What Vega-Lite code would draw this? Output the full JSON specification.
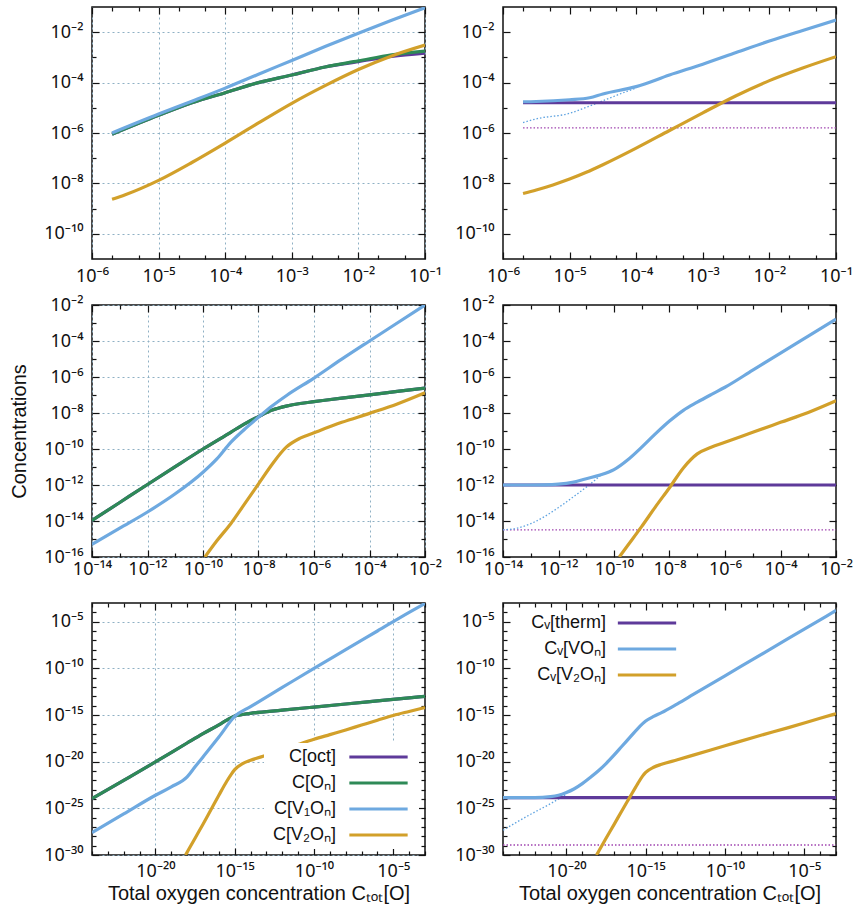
{
  "$schema": "https://vega.github.io/schema/vega-lite/v6.json",
  "background": "white",
  "padding": {"left": 8, "top": 5, "right": 0, "bottom": 0},
  "datasets": {
    "p1": [
      {"s":"C[oct]","x":2e-6,"y":8.91e-7},{"s":"C[oct]","x":1e-5,"y":5.01e-6},{"s":"C[oct]","x":3.16e-5,"y":1.585e-5},{"s":"C[oct]","x":1e-4,"y":3.98e-5},{"s":"C[oct]","x":3.16e-4,"y":1e-4},{"s":"C[oct]","x":1e-3,"y":2.0e-4},{"s":"C[oct]","x":3.16e-3,"y":4.17e-4},{"s":"C[oct]","x":1e-2,"y":6.76e-4},{"s":"C[oct]","x":3.16e-2,"y":1.10e-3},{"s":"C[oct]","x":1e-1,"y":1.48e-3},
      {"s":"C[Oₙ]","x":2e-6,"y":8.91e-7},{"s":"C[Oₙ]","x":1e-5,"y":5.01e-6},{"s":"C[Oₙ]","x":3.16e-5,"y":1.585e-5},{"s":"C[Oₙ]","x":1e-4,"y":3.98e-5},{"s":"C[Oₙ]","x":3.16e-4,"y":1e-4},{"s":"C[Oₙ]","x":1e-3,"y":2.0e-4},{"s":"C[Oₙ]","x":3.16e-3,"y":4.17e-4},{"s":"C[Oₙ]","x":1e-2,"y":7.24e-4},{"s":"C[Oₙ]","x":3.16e-2,"y":1.26e-3},{"s":"C[Oₙ]","x":1e-1,"y":1.78e-3},
      {"s":"C[V₁Oₙ]","x":2e-6,"y":1e-6},{"s":"C[V₁Oₙ]","x":1e-5,"y":5.62e-6},{"s":"C[V₁Oₙ]","x":3.16e-5,"y":1.82e-5},{"s":"C[V₁Oₙ]","x":1e-4,"y":6.03e-5},{"s":"C[V₁Oₙ]","x":3.16e-4,"y":2.14e-4},{"s":"C[V₁Oₙ]","x":1e-3,"y":7.59e-4},{"s":"C[V₁Oₙ]","x":3.16e-3,"y":2.69e-3},{"s":"C[V₁Oₙ]","x":1e-2,"y":9.12e-3},{"s":"C[V₁Oₙ]","x":3.16e-2,"y":2.95e-2},{"s":"C[V₁Oₙ]","x":1e-1,"y":9.33e-2},
      {"s":"C[V₂Oₙ]","x":2e-6,"y":2.34e-9},{"s":"C[V₂Oₙ]","x":3.16e-6,"y":3.55e-9},{"s":"C[V₂Oₙ]","x":1e-5,"y":1.32e-8},{"s":"C[V₂Oₙ]","x":3.16e-5,"y":6.76e-8},{"s":"C[V₂Oₙ]","x":1e-4,"y":3.98e-7},{"s":"C[V₂Oₙ]","x":3.16e-4,"y":2.51e-6},{"s":"C[V₂Oₙ]","x":1e-3,"y":1.51e-5},{"s":"C[V₂Oₙ]","x":3.16e-3,"y":7.59e-5},{"s":"C[V₂Oₙ]","x":1e-2,"y":3.31e-4},{"s":"C[V₂Oₙ]","x":3.16e-2,"y":1.148e-3},{"s":"C[V₂Oₙ]","x":1e-1,"y":3.09e-3}
    ],
    "p2": [
      {"s":"aux therm","x":2e-6,"y":1.585e-6},{"s":"aux therm","x":1e-1,"y":1.585e-6},
      {"s":"aux VOₙ","x":2e-6,"y":2.57e-6},{"s":"aux VOₙ","x":3.16e-6,"y":3.63e-6},{"s":"aux VOₙ","x":1e-5,"y":6.03e-6},{"s":"aux VOₙ","x":2e-5,"y":1.175e-5},{"s":"aux VOₙ","x":4.9e-5,"y":3.02e-5},{"s":"aux VOₙ","x":1e-4,"y":6.17e-5},
      {"s":"Cᵥ[therm]","x":2e-6,"y":1.585e-5},{"s":"Cᵥ[therm]","x":1e-1,"y":1.585e-5},
      {"s":"Cᵥ[VOₙ]","x":2e-6,"y":1.74e-5},{"s":"Cᵥ[VOₙ]","x":3.16e-6,"y":1.78e-5},{"s":"Cᵥ[VOₙ]","x":1e-5,"y":2.09e-5},{"s":"Cᵥ[VOₙ]","x":2e-5,"y":2.51e-5},{"s":"Cᵥ[VOₙ]","x":3.16e-5,"y":3.55e-5},{"s":"Cᵥ[VOₙ]","x":1e-4,"y":6.92e-5},{"s":"Cᵥ[VOₙ]","x":3.16e-4,"y":2.0e-4},{"s":"Cᵥ[VOₙ]","x":1e-3,"y":5.37e-4},{"s":"Cᵥ[VOₙ]","x":3.16e-3,"y":1.55e-3},{"s":"Cᵥ[VOₙ]","x":1e-2,"y":4.47e-3},{"s":"Cᵥ[VOₙ]","x":3.16e-2,"y":1.175e-2},{"s":"Cᵥ[VOₙ]","x":1e-1,"y":3.02e-2},
      {"s":"Cᵥ[V₂Oₙ]","x":2e-6,"y":3.98e-9},{"s":"Cᵥ[V₂Oₙ]","x":3.16e-6,"y":5.5e-9},{"s":"Cᵥ[V₂Oₙ]","x":5.62e-6,"y":8.71e-9},{"s":"Cᵥ[V₂Oₙ]","x":1e-5,"y":1.48e-8},{"s":"Cᵥ[V₂Oₙ]","x":1.78e-5,"y":2.75e-8},{"s":"Cᵥ[V₂Oₙ]","x":3.16e-5,"y":5.5e-8},{"s":"Cᵥ[V₂Oₙ]","x":1e-4,"y":2.51e-7},{"s":"Cᵥ[V₂Oₙ]","x":3.16e-4,"y":1.26e-6},{"s":"Cᵥ[V₂Oₙ]","x":1e-3,"y":6.31e-6},{"s":"Cᵥ[V₂Oₙ]","x":3.16e-3,"y":3.02e-5},{"s":"Cᵥ[V₂Oₙ]","x":1e-2,"y":1.20e-4},{"s":"Cᵥ[V₂Oₙ]","x":3.16e-2,"y":3.80e-4},{"s":"Cᵥ[V₂Oₙ]","x":1e-1,"y":1.07e-3}
    ],
    "p3": [
      {"s":"C[oct]","x":1e-14,"y":1.07e-14},{"s":"C[oct]","x":1e-13,"y":1.07e-13},{"s":"C[oct]","x":1e-12,"y":1.07e-12},{"s":"C[oct]","x":1e-11,"y":1.05e-11},{"s":"C[oct]","x":1e-10,"y":1e-10},{"s":"C[oct]","x":1e-9,"y":8.51e-10},{"s":"C[oct]","x":3.16e-9,"y":2.51e-9},{"s":"C[oct]","x":1e-8,"y":6.31e-9},{"s":"C[oct]","x":3.16e-8,"y":1.445e-8},{"s":"C[oct]","x":1e-7,"y":2.40e-8},{"s":"C[oct]","x":3.16e-7,"y":3.39e-8},{"s":"C[oct]","x":1e-6,"y":4.27e-8},{"s":"C[oct]","x":1e-5,"y":6.76e-8},{"s":"C[oct]","x":1e-4,"y":1.02e-7},{"s":"C[oct]","x":1e-3,"y":1.585e-7},{"s":"C[oct]","x":1e-2,"y":2.40e-7},
      {"s":"C[Oₙ]","x":1e-14,"y":1.07e-14},{"s":"C[Oₙ]","x":1e-13,"y":1.07e-13},{"s":"C[Oₙ]","x":1e-12,"y":1.07e-12},{"s":"C[Oₙ]","x":1e-11,"y":1.05e-11},{"s":"C[Oₙ]","x":1e-10,"y":1e-10},{"s":"C[Oₙ]","x":1e-9,"y":8.51e-10},{"s":"C[Oₙ]","x":3.16e-9,"y":2.51e-9},{"s":"C[Oₙ]","x":1e-8,"y":6.31e-9},{"s":"C[Oₙ]","x":3.16e-8,"y":1.445e-8},{"s":"C[Oₙ]","x":1e-7,"y":2.40e-8},{"s":"C[Oₙ]","x":3.16e-7,"y":3.39e-8},{"s":"C[Oₙ]","x":1e-6,"y":4.27e-8},{"s":"C[Oₙ]","x":1e-5,"y":6.76e-8},{"s":"C[Oₙ]","x":1e-4,"y":1.02e-7},{"s":"C[Oₙ]","x":1e-3,"y":1.585e-7},{"s":"C[Oₙ]","x":1e-2,"y":2.40e-7},
      {"s":"C[V₁Oₙ]","x":1e-14,"y":5.01e-16},{"s":"C[V₁Oₙ]","x":1e-13,"y":3.98e-15},{"s":"C[V₁Oₙ]","x":1e-12,"y":3.16e-14},{"s":"C[V₁Oₙ]","x":1e-11,"y":3.24e-13},{"s":"C[V₁Oₙ]","x":1e-10,"y":5.13e-12},{"s":"C[V₁Oₙ]","x":3.16e-10,"y":2.82e-11},{"s":"C[V₁Oₙ]","x":1e-9,"y":2.34e-10},{"s":"C[V₁Oₙ]","x":3.16e-9,"y":1.26e-9},{"s":"C[V₁Oₙ]","x":1e-8,"y":5.75e-9},{"s":"C[V₁Oₙ]","x":3.16e-8,"y":2.51e-8},{"s":"C[V₁Oₙ]","x":1e-7,"y":9.12e-8},{"s":"C[V₁Oₙ]","x":1e-6,"y":8.71e-7},{"s":"C[V₁Oₙ]","x":1e-5,"y":9.77e-6},{"s":"C[V₁Oₙ]","x":1e-4,"y":1e-4},{"s":"C[V₁Oₙ]","x":1e-3,"y":1e-3},{"s":"C[V₁Oₙ]","x":1e-2,"y":1e-2},
      {"s":"C[V₂Oₙ]","x":1.17e-10,"y":1e-16},{"s":"C[V₂Oₙ]","x":3.16e-10,"y":7.94e-16},{"s":"C[V₂Oₙ]","x":1e-9,"y":7.08e-15},{"s":"C[V₂Oₙ]","x":3.16e-9,"y":8.91e-14},{"s":"C[V₂Oₙ]","x":1e-8,"y":1.15e-12},{"s":"C[V₂Oₙ]","x":3.16e-8,"y":1.48e-11},{"s":"C[V₂Oₙ]","x":1e-7,"y":1.26e-10},{"s":"C[V₂Oₙ]","x":3.16e-7,"y":3.98e-10},{"s":"C[V₂Oₙ]","x":1e-6,"y":7.94e-10},{"s":"C[V₂Oₙ]","x":1e-5,"y":3.02e-9},{"s":"C[V₂Oₙ]","x":1e-4,"y":9.55e-9},{"s":"C[V₂Oₙ]","x":1e-3,"y":3.16e-8},{"s":"C[V₂Oₙ]","x":1e-2,"y":1.32e-7}
    ],
    "p4": [
      {"s":"aux therm","x":1e-14,"y":3.24e-15},{"s":"aux therm","x":1e-2,"y":3.24e-15},
      {"s":"aux VOₙ","x":1e-14,"y":3.24e-15},{"s":"aux VOₙ","x":3.16e-14,"y":3.98e-15},{"s":"aux VOₙ","x":1e-13,"y":7.08e-15},{"s":"aux VOₙ","x":3.16e-13,"y":1.78e-14},{"s":"aux VOₙ","x":1e-12,"y":5.62e-14},{"s":"aux VOₙ","x":3.16e-12,"y":2.0e-13},{"s":"aux VOₙ","x":1e-11,"y":7.59e-13},{"s":"aux VOₙ","x":2e-11,"y":1.78e-12},{"s":"aux VOₙ","x":3.16e-11,"y":3.16e-12},
      {"s":"Cᵥ[therm]","x":1e-14,"y":1e-12},{"s":"Cᵥ[therm]","x":1e-2,"y":1e-12},
      {"s":"Cᵥ[VOₙ]","x":1e-14,"y":1e-12},{"s":"Cᵥ[VOₙ]","x":1e-13,"y":1e-12},{"s":"Cᵥ[VOₙ]","x":3.16e-13,"y":1.02e-12},{"s":"Cᵥ[VOₙ]","x":1e-12,"y":1.12e-12},{"s":"Cᵥ[VOₙ]","x":3.16e-12,"y":1.41e-12},{"s":"Cᵥ[VOₙ]","x":1e-11,"y":2.24e-12},{"s":"Cᵥ[VOₙ]","x":3.16e-11,"y":3.55e-12},{"s":"Cᵥ[VOₙ]","x":1e-10,"y":7.08e-12},{"s":"Cᵥ[VOₙ]","x":3.16e-10,"y":2.51e-11},{"s":"Cᵥ[VOₙ]","x":1e-9,"y":1.26e-10},{"s":"Cᵥ[VOₙ]","x":3.16e-9,"y":7.08e-10},{"s":"Cᵥ[VOₙ]","x":1e-8,"y":3.55e-9},{"s":"Cᵥ[VOₙ]","x":3.16e-8,"y":1.41e-8},{"s":"Cᵥ[VOₙ]","x":1e-7,"y":3.98e-8},{"s":"Cᵥ[VOₙ]","x":3.16e-7,"y":1.05e-7},{"s":"Cᵥ[VOₙ]","x":1e-6,"y":2.69e-7},{"s":"Cᵥ[VOₙ]","x":1e-5,"y":2.40e-6},{"s":"Cᵥ[VOₙ]","x":1e-4,"y":2.14e-5},{"s":"Cᵥ[VOₙ]","x":1e-3,"y":1.86e-4},{"s":"Cᵥ[VOₙ]","x":1e-2,"y":1.62e-3},
      {"s":"Cᵥ[V₂Oₙ]","x":1.55e-10,"y":1e-16},{"s":"Cᵥ[V₂Oₙ]","x":3.16e-10,"y":4.47e-16},{"s":"Cᵥ[V₂Oₙ]","x":1e-9,"y":5.01e-15},{"s":"Cᵥ[V₂Oₙ]","x":3.16e-9,"y":6.31e-14},{"s":"Cᵥ[V₂Oₙ]","x":1e-8,"y":7.08e-13},{"s":"Cᵥ[V₂Oₙ]","x":3.16e-8,"y":8.91e-12},{"s":"Cᵥ[V₂Oₙ]","x":1e-7,"y":5.37e-11},{"s":"Cᵥ[V₂Oₙ]","x":3.16e-7,"y":1.26e-10},{"s":"Cᵥ[V₂Oₙ]","x":1e-6,"y":2.34e-10},{"s":"Cᵥ[V₂Oₙ]","x":1e-5,"y":8.51e-10},{"s":"Cᵥ[V₂Oₙ]","x":1e-4,"y":3.02e-9},{"s":"Cᵥ[V₂Oₙ]","x":1e-3,"y":1.07e-8},{"s":"Cᵥ[V₂Oₙ]","x":1e-2,"y":4.79e-8}
    ],
    "p5": [
      {"s":"C[oct]","x":1e-24,"y":1.12e-24},{"s":"C[oct]","x":1e-22,"y":1e-22},{"s":"C[oct]","x":1e-20,"y":9.33e-21},{"s":"C[oct]","x":1e-18,"y":1e-18},{"s":"C[oct]","x":1e-17,"y":1e-17},{"s":"C[oct]","x":1e-16,"y":8.91e-17},{"s":"C[oct]","x":3.16e-16,"y":2.82e-16},{"s":"C[oct]","x":1e-15,"y":7.94e-16},{"s":"C[oct]","x":3.16e-15,"y":1.12e-15},{"s":"C[oct]","x":1e-14,"y":1.51e-15},{"s":"C[oct]","x":1e-12,"y":3.31e-15},{"s":"C[oct]","x":1e-10,"y":7.08e-15},{"s":"C[oct]","x":1e-8,"y":1.51e-14},{"s":"C[oct]","x":1e-6,"y":3.24e-14},{"s":"C[oct]","x":1e-4,"y":6.92e-14},{"s":"C[oct]","x":1e-3,"y":1e-13},
      {"s":"C[Oₙ]","x":1e-24,"y":1.12e-24},{"s":"C[Oₙ]","x":1e-22,"y":1e-22},{"s":"C[Oₙ]","x":1e-20,"y":9.33e-21},{"s":"C[Oₙ]","x":1e-18,"y":1e-18},{"s":"C[Oₙ]","x":1e-17,"y":1e-17},{"s":"C[Oₙ]","x":1e-16,"y":8.91e-17},{"s":"C[Oₙ]","x":3.16e-16,"y":2.82e-16},{"s":"C[Oₙ]","x":1e-15,"y":7.94e-16},{"s":"C[Oₙ]","x":3.16e-15,"y":1.12e-15},{"s":"C[Oₙ]","x":1e-14,"y":1.51e-15},{"s":"C[Oₙ]","x":1e-12,"y":3.31e-15},{"s":"C[Oₙ]","x":1e-10,"y":7.08e-15},{"s":"C[Oₙ]","x":1e-8,"y":1.51e-14},{"s":"C[Oₙ]","x":1e-6,"y":3.24e-14},{"s":"C[Oₙ]","x":1e-4,"y":6.92e-14},{"s":"C[Oₙ]","x":1e-3,"y":1e-13},
      {"s":"C[V₁Oₙ]","x":1e-24,"y":2.51e-28},{"s":"C[V₁Oₙ]","x":1e-22,"y":2.51e-26},{"s":"C[V₁Oₙ]","x":1e-20,"y":2.51e-24},{"s":"C[V₁Oₙ]","x":1e-19,"y":2.0e-23},{"s":"C[V₁Oₙ]","x":1e-18,"y":2.34e-22},{"s":"C[V₁Oₙ]","x":3.16e-18,"y":2.82e-21},{"s":"C[V₁Oₙ]","x":1e-17,"y":3.24e-20},{"s":"C[V₁Oₙ]","x":1e-16,"y":4.37e-18},{"s":"C[V₁Oₙ]","x":1e-15,"y":7.08e-16},{"s":"C[V₁Oₙ]","x":1e-14,"y":7.94e-15},{"s":"C[V₁Oₙ]","x":1e-12,"y":8.91e-13},{"s":"C[V₁Oₙ]","x":1e-10,"y":1e-10},{"s":"C[V₁Oₙ]","x":1e-8,"y":1e-8},{"s":"C[V₁Oₙ]","x":1e-6,"y":1e-6},{"s":"C[V₁Oₙ]","x":1e-4,"y":1e-4},{"s":"C[V₁Oₙ]","x":1e-3,"y":8.91e-4},
      {"s":"C[V₂Oₙ]","x":7.94e-19,"y":1e-30},{"s":"C[V₂Oₙ]","x":3.16e-18,"y":6.31e-29},{"s":"C[V₂Oₙ]","x":1e-17,"y":2.0e-27},{"s":"C[V₂Oₙ]","x":3.16e-17,"y":7.08e-26},{"s":"C[V₂Oₙ]","x":1e-16,"y":2.51e-24},{"s":"C[V₂Oₙ]","x":3.16e-16,"y":7.94e-23},{"s":"C[V₂Oₙ]","x":6.31e-16,"y":5.01e-22},{"s":"C[V₂Oₙ]","x":1e-15,"y":1.41e-21},{"s":"C[V₂Oₙ]","x":3.16e-15,"y":6.31e-21},{"s":"C[V₂Oₙ]","x":1e-14,"y":1.41e-20},{"s":"C[V₂Oₙ]","x":1e-13,"y":4.79e-20},{"s":"C[V₂Oₙ]","x":1e-12,"y":1.78e-19},{"s":"C[V₂Oₙ]","x":1e-11,"y":6.76e-19},{"s":"C[V₂Oₙ]","x":1e-10,"y":2.51e-18},{"s":"C[V₂Oₙ]","x":1e-9,"y":7.94e-18},{"s":"C[V₂Oₙ]","x":1e-8,"y":2.51e-17},{"s":"C[V₂Oₙ]","x":1e-7,"y":8.32e-17},{"s":"C[V₂Oₙ]","x":1e-6,"y":2.75e-16},{"s":"C[V₂Oₙ]","x":1e-5,"y":8.91e-16},{"s":"C[V₂Oₙ]","x":1e-4,"y":2.40e-15},{"s":"C[V₂Oₙ]","x":1e-3,"y":6.31e-15}
    ],
    "p6": [
      {"s":"aux therm","x":1e-24,"y":1.175e-29},{"s":"aux therm","x":1e-3,"y":1.175e-29},
      {"s":"aux VOₙ","x":1e-24,"y":4.47e-28},{"s":"aux VOₙ","x":1e-23,"y":4.47e-27},{"s":"aux VOₙ","x":1e-22,"y":3.98e-26},{"s":"aux VOₙ","x":1e-21,"y":3.16e-25},{"s":"aux VOₙ","x":3.16e-21,"y":1e-24},{"s":"aux VOₙ","x":1e-20,"y":3.16e-24},
      {"s":"Cᵥ[therm]","x":1e-24,"y":1.41e-24},{"s":"Cᵥ[therm]","x":1e-3,"y":1.41e-24},
      {"s":"Cᵥ[VOₙ]","x":1e-24,"y":1.41e-24},{"s":"Cᵥ[VOₙ]","x":1e-22,"y":1.41e-24},{"s":"Cᵥ[VOₙ]","x":1e-21,"y":1.78e-24},{"s":"Cᵥ[VOₙ]","x":3.16e-21,"y":2.51e-24},{"s":"Cᵥ[VOₙ]","x":1e-20,"y":5.01e-24},{"s":"Cᵥ[VOₙ]","x":3.16e-20,"y":1.26e-23},{"s":"Cᵥ[VOₙ]","x":1e-19,"y":4.47e-23},{"s":"Cᵥ[VOₙ]","x":3.16e-19,"y":2.0e-22},{"s":"Cᵥ[VOₙ]","x":1e-18,"y":1e-21},{"s":"Cᵥ[VOₙ]","x":3.16e-18,"y":6.31e-21},{"s":"Cᵥ[VOₙ]","x":1e-17,"y":5.01e-20},{"s":"Cᵥ[VOₙ]","x":3.16e-17,"y":4.47e-19},{"s":"Cᵥ[VOₙ]","x":1e-16,"y":3.98e-18},{"s":"Cᵥ[VOₙ]","x":3.16e-16,"y":3.55e-17},{"s":"Cᵥ[VOₙ]","x":1e-15,"y":2.24e-16},{"s":"Cᵥ[VOₙ]","x":3.16e-15,"y":7.08e-16},{"s":"Cᵥ[VOₙ]","x":1e-14,"y":1.78e-15},{"s":"Cᵥ[VOₙ]","x":1e-13,"y":1.585e-14},{"s":"Cᵥ[VOₙ]","x":1e-12,"y":1.585e-13},{"s":"Cᵥ[VOₙ]","x":1e-10,"y":1.585e-11},{"s":"Cᵥ[VOₙ]","x":1e-8,"y":1.585e-9},{"s":"Cᵥ[VOₙ]","x":1e-6,"y":1.585e-7},{"s":"Cᵥ[VOₙ]","x":1e-4,"y":1.585e-5},{"s":"Cᵥ[VOₙ]","x":1e-3,"y":1.585e-4},
      {"s":"Cᵥ[V₂Oₙ]","x":7.94e-19,"y":1e-30},{"s":"Cᵥ[V₂Oₙ]","x":3.16e-18,"y":6.31e-29},{"s":"Cᵥ[V₂Oₙ]","x":1e-17,"y":1.78e-27},{"s":"Cᵥ[V₂Oₙ]","x":3.16e-17,"y":5.62e-26},{"s":"Cᵥ[V₂Oₙ]","x":1e-16,"y":1.585e-24},{"s":"Cᵥ[V₂Oₙ]","x":3.16e-16,"y":4.47e-23},{"s":"Cᵥ[V₂Oₙ]","x":6.31e-16,"y":2.82e-22},{"s":"Cᵥ[V₂Oₙ]","x":1e-15,"y":7.08e-22},{"s":"Cᵥ[V₂Oₙ]","x":3.16e-15,"y":2.51e-21},{"s":"Cᵥ[V₂Oₙ]","x":1e-14,"y":5.25e-21},{"s":"Cᵥ[V₂Oₙ]","x":1e-13,"y":1.585e-20},{"s":"Cᵥ[V₂Oₙ]","x":1e-12,"y":5.01e-20},{"s":"Cᵥ[V₂Oₙ]","x":1e-10,"y":5.01e-19},{"s":"Cᵥ[V₂Oₙ]","x":1e-8,"y":5.01e-18},{"s":"Cᵥ[V₂Oₙ]","x":1e-6,"y":4.47e-17},{"s":"Cᵥ[V₂Oₙ]","x":1e-4,"y":4.47e-16},{"s":"Cᵥ[V₂Oₙ]","x":1e-3,"y":1.38e-15}
    ]
  },
  "columns": 2,
  "spacing": {"row": 46, "column": 78},
  "bounds": "flush",
  "resolve": {"scale": {"color": "independent"}, "legend": {"color": "independent"}},
  "concat": [
    {
      "width": 333, "height": 252,
      "data": {"name": "p1"},
      "layer": [
        {
          "mark": {"type": "line", "strokeWidth": 3.2, "clip": true, "interpolate": "monotone"},
          "encoding": {
            "x": {"field": "x", "type": "quantitative", "scale": {"type": "log", "domain": [1e-6, 0.1], "nice": false},
              "axis": {"orient": "bottom", "title": null, "values": [1e-6,2e-6,5e-6,1e-5,2e-5,5e-5,1e-4,2e-4,5e-4,1e-3,2e-3,5e-3,1e-2,2e-2,5e-2,1e-1],
                "labelExpr": "abs(log(datum.value)/LN10 - round(log(datum.value)/LN10)) < 0.01 ? '10⁻' + (round(-log(datum.value)/LN10) >= 10 ? ['⁰','¹','²','³','⁴','⁵','⁶','⁷','⁸','⁹'][floor(round(-log(datum.value)/LN10)/10)] : '') + ['⁰','¹','²','³','⁴','⁵','⁶','⁷','⁸','⁹'][round(-log(datum.value)/LN10) % 10] : ''",
                "tickSize": {"condition": {"test": "abs(log(datum.value)/LN10 - round(log(datum.value)/LN10)) < 0.01", "value": -7}, "value": -4},
                "gridOpacity": {"condition": {"test": "abs(log(datum.value)/LN10 - round(log(datum.value)/LN10)) < 0.01", "value": 1}, "value": 0},
                "labelPadding": 15}},
            "y": {"field": "y", "type": "quantitative", "scale": {"type": "log", "domain": [1e-11, 0.1], "nice": false},
              "axis": {"orient": "left", "title": null, "values": [1e-10,1e-9,1e-8,1e-7,1e-6,1e-5,1e-4,1e-3,1e-2],
                "labelExpr": "round(log(datum.value)/LN10) % 2 == 0 ? '10⁻' + (round(-log(datum.value)/LN10) >= 10 ? ['⁰','¹','²','³','⁴','⁵','⁶','⁷','⁸','⁹'][floor(round(-log(datum.value)/LN10)/10)] : '') + ['⁰','¹','²','³','⁴','⁵','⁶','⁷','⁸','⁹'][round(-log(datum.value)/LN10) % 10] : ''",
                "tickSize": {"condition": {"test": "round(log(datum.value)/LN10) % 2 == 0", "value": -7}, "value": -4},
                "gridOpacity": {"condition": {"test": "round(log(datum.value)/LN10) % 2 == 0", "value": 1}, "value": 0},
                "labelPadding": 16}},
            "color": {"field": "s", "type": "nominal", "legend": null,
              "scale": {"domain": ["C[oct]","C[Oₙ]","C[V₁Oₙ]","C[V₂Oₙ]"], "range": ["#5e3a9a","#2e8a57","#6ea9e0","#d2a02a"]}}
          }
        },
        {
          "mark": {"type": "line", "opacity": 0},
          "encoding": {
            "x": {"field": "x", "type": "quantitative", "scale": {"type": "log", "domain": [1e-6, 0.1], "nice": false},
              "axis": {"orient": "top", "title": null, "labels": false, "grid": false, "values": [1e-6,2e-6,5e-6,1e-5,2e-5,5e-5,1e-4,2e-4,5e-4,1e-3,2e-3,5e-3,1e-2,2e-2,5e-2,1e-1],
                "tickSize": {"condition": {"test": "abs(log(datum.value)/LN10 - round(log(datum.value)/LN10)) < 0.01", "value": -7}, "value": -4}}},
            "y": {"field": "y", "type": "quantitative", "scale": {"type": "log", "domain": [1e-11, 0.1], "nice": false},
              "axis": {"orient": "right", "title": null, "labels": false, "grid": false, "values": [1e-10,1e-9,1e-8,1e-7,1e-6,1e-5,1e-4,1e-3,1e-2],
                "tickSize": {"condition": {"test": "round(log(datum.value)/LN10) % 2 == 0", "value": -7}, "value": -4}}}
          }
        }
      ],
      "resolve": {"axis": {"x": "independent", "y": "independent"}}
    },
    {
      "width": 333, "height": 252,
      "data": {"name": "p2"},
      "layer": [
        {
          "transform": [{"filter": {"field": "s", "equal": "aux therm"}}],
          "mark": {"type": "line", "strokeWidth": 1.3, "strokeDash": [1.5, 2], "color": "#a044b0", "clip": true},
          "encoding": {
            "x": {"field": "x", "type": "quantitative", "scale": {"type": "log", "domain": [1e-6, 0.1], "nice": false}, "axis": null},
            "y": {"field": "y", "type": "quantitative", "scale": {"type": "log", "domain": [1e-11, 0.1], "nice": false}, "axis": null}
          }
        },
        {
          "transform": [{"filter": {"field": "s", "equal": "aux VOₙ"}}],
          "mark": {"type": "line", "strokeWidth": 1.3, "strokeDash": [1.5, 2], "color": "#5fa3e0", "clip": true, "interpolate": "monotone"},
          "encoding": {
            "x": {"field": "x", "type": "quantitative", "scale": {"type": "log", "domain": [1e-6, 0.1], "nice": false}, "axis": null},
            "y": {"field": "y", "type": "quantitative", "scale": {"type": "log", "domain": [1e-11, 0.1], "nice": false}, "axis": null}
          }
        },
        {
          "transform": [{"filter": {"field": "s", "oneOf": ["Cᵥ[therm]","Cᵥ[VOₙ]","Cᵥ[V₂Oₙ]"]}}],
          "mark": {"type": "line", "strokeWidth": 3.2, "clip": true, "interpolate": "monotone"},
          "encoding": {
            "x": {"field": "x", "type": "quantitative", "scale": {"type": "log", "domain": [1e-6, 0.1], "nice": false},
              "axis": {"orient": "bottom", "title": null, "values": [1e-6,2e-6,5e-6,1e-5,2e-5,5e-5,1e-4,2e-4,5e-4,1e-3,2e-3,5e-3,1e-2,2e-2,5e-2,1e-1],
                "labelExpr": "abs(log(datum.value)/LN10 - round(log(datum.value)/LN10)) < 0.01 ? '10⁻' + (round(-log(datum.value)/LN10) >= 10 ? ['⁰','¹','²','³','⁴','⁵','⁶','⁷','⁸','⁹'][floor(round(-log(datum.value)/LN10)/10)] : '') + ['⁰','¹','²','³','⁴','⁵','⁶','⁷','⁸','⁹'][round(-log(datum.value)/LN10) % 10] : ''",
                "tickSize": {"condition": {"test": "abs(log(datum.value)/LN10 - round(log(datum.value)/LN10)) < 0.01", "value": -7}, "value": -4},
                "gridOpacity": {"condition": {"test": "abs(log(datum.value)/LN10 - round(log(datum.value)/LN10)) < 0.01", "value": 1}, "value": 0},
                "labelPadding": 15}},
            "y": {"field": "y", "type": "quantitative", "scale": {"type": "log", "domain": [1e-11, 0.1], "nice": false},
              "axis": {"orient": "left", "title": null, "values": [1e-10,1e-9,1e-8,1e-7,1e-6,1e-5,1e-4,1e-3,1e-2],
                "labelExpr": "round(log(datum.value)/LN10) % 2 == 0 ? '10⁻' + (round(-log(datum.value)/LN10) >= 10 ? ['⁰','¹','²','³','⁴','⁵','⁶','⁷','⁸','⁹'][floor(round(-log(datum.value)/LN10)/10)] : '') + ['⁰','¹','²','³','⁴','⁵','⁶','⁷','⁸','⁹'][round(-log(datum.value)/LN10) % 10] : ''",
                "tickSize": {"condition": {"test": "round(log(datum.value)/LN10) % 2 == 0", "value": -7}, "value": -4},
                "gridOpacity": {"condition": {"test": "round(log(datum.value)/LN10) % 2 == 0", "value": 1}, "value": 0},
                "labelPadding": 16}},
            "color": {"field": "s", "type": "nominal", "legend": null,
              "scale": {"domain": ["Cᵥ[therm]","Cᵥ[VOₙ]","Cᵥ[V₂Oₙ]"], "range": ["#5e3a9a","#6ea9e0","#d2a02a"]}}
          }
        },
        {
          "mark": {"type": "line", "opacity": 0},
          "encoding": {
            "x": {"field": "x", "type": "quantitative", "scale": {"type": "log", "domain": [1e-6, 0.1], "nice": false},
              "axis": {"orient": "top", "title": null, "labels": false, "grid": false, "values": [1e-6,2e-6,5e-6,1e-5,2e-5,5e-5,1e-4,2e-4,5e-4,1e-3,2e-3,5e-3,1e-2,2e-2,5e-2,1e-1],
                "tickSize": {"condition": {"test": "abs(log(datum.value)/LN10 - round(log(datum.value)/LN10)) < 0.01", "value": -7}, "value": -4}}},
            "y": {"field": "y", "type": "quantitative", "scale": {"type": "log", "domain": [1e-11, 0.1], "nice": false},
              "axis": {"orient": "right", "title": null, "labels": false, "grid": false, "values": [1e-10,1e-9,1e-8,1e-7,1e-6,1e-5,1e-4,1e-3,1e-2],
                "tickSize": {"condition": {"test": "round(log(datum.value)/LN10) % 2 == 0", "value": -7}, "value": -4}}}
          }
        }
      ],
      "resolve": {"axis": {"x": "independent", "y": "independent"}}
    },
    {
      "width": 333, "height": 252,
      "data": {"name": "p3"},
      "layer": [
        {
          "mark": {"type": "line", "strokeWidth": 3.2, "clip": true, "interpolate": "monotone"},
          "encoding": {
            "x": {"field": "x", "type": "quantitative", "scale": {"type": "log", "domain": [1e-14, 1e-2], "nice": false},
              "axis": {"orient": "bottom", "title": null, "values": [1e-14,1e-13,1e-12,1e-11,1e-10,1e-9,1e-8,1e-7,1e-6,1e-5,1e-4,1e-3,1e-2],
                "labelExpr": "round(log(datum.value)/LN10) % 2 == 0 ? '10⁻' + (round(-log(datum.value)/LN10) >= 10 ? ['⁰','¹','²','³','⁴','⁵','⁶','⁷','⁸','⁹'][floor(round(-log(datum.value)/LN10)/10)] : '') + ['⁰','¹','²','³','⁴','⁵','⁶','⁷','⁸','⁹'][round(-log(datum.value)/LN10) % 10] : ''",
                "tickSize": {"condition": {"test": "round(log(datum.value)/LN10) % 2 == 0", "value": -7}, "value": -4},
                "gridOpacity": {"condition": {"test": "round(log(datum.value)/LN10) % 2 == 0", "value": 1}, "value": 0},
                "labelPadding": 10}},
            "y": {"field": "y", "type": "quantitative", "scale": {"type": "log", "domain": [1e-16, 1e-2], "nice": false},
              "axis": {"orient": "left", "title": "Concentrations", "titleX": -73, "titleY": 126, "titleAngle": 270, "titleAlign": "center", "titleBaseline": "middle",
                "values": [1e-16,1e-15,1e-14,1e-13,1e-12,1e-11,1e-10,1e-9,1e-8,1e-7,1e-6,1e-5,1e-4,1e-3,1e-2],
                "labelExpr": "round(log(datum.value)/LN10) % 2 == 0 ? '10⁻' + (round(-log(datum.value)/LN10) >= 10 ? ['⁰','¹','²','³','⁴','⁵','⁶','⁷','⁸','⁹'][floor(round(-log(datum.value)/LN10)/10)] : '') + ['⁰','¹','²','³','⁴','⁵','⁶','⁷','⁸','⁹'][round(-log(datum.value)/LN10) % 10] : ''",
                "tickSize": {"condition": {"test": "round(log(datum.value)/LN10) % 2 == 0", "value": -7}, "value": -4},
                "gridOpacity": {"condition": {"test": "round(log(datum.value)/LN10) % 2 == 0", "value": 1}, "value": 0},
                "labelPadding": 16}},
            "color": {"field": "s", "type": "nominal", "legend": null,
              "scale": {"domain": ["C[oct]","C[Oₙ]","C[V₁Oₙ]","C[V₂Oₙ]"], "range": ["#5e3a9a","#2e8a57","#6ea9e0","#d2a02a"]}}
          }
        },
        {
          "mark": {"type": "line", "opacity": 0},
          "encoding": {
            "x": {"field": "x", "type": "quantitative", "scale": {"type": "log", "domain": [1e-14, 1e-2], "nice": false},
              "axis": {"orient": "top", "title": null, "labels": false, "grid": false, "values": [1e-14,1e-13,1e-12,1e-11,1e-10,1e-9,1e-8,1e-7,1e-6,1e-5,1e-4,1e-3,1e-2],
                "tickSize": {"condition": {"test": "round(log(datum.value)/LN10) % 2 == 0", "value": -7}, "value": -4}}},
            "y": {"field": "y", "type": "quantitative", "scale": {"type": "log", "domain": [1e-16, 1e-2], "nice": false},
              "axis": {"orient": "right", "title": null, "labels": false, "grid": false, "values": [1e-16,1e-15,1e-14,1e-13,1e-12,1e-11,1e-10,1e-9,1e-8,1e-7,1e-6,1e-5,1e-4,1e-3,1e-2],
                "tickSize": {"condition": {"test": "round(log(datum.value)/LN10) % 2 == 0", "value": -7}, "value": -4}}}
          }
        }
      ],
      "resolve": {"axis": {"x": "independent", "y": "independent"}}
    },
    {
      "width": 333, "height": 252,
      "data": {"name": "p4"},
      "layer": [
        {
          "transform": [{"filter": {"field": "s", "equal": "aux therm"}}],
          "mark": {"type": "line", "strokeWidth": 1.3, "strokeDash": [1.5, 2], "color": "#a044b0", "clip": true},
          "encoding": {
            "x": {"field": "x", "type": "quantitative", "scale": {"type": "log", "domain": [1e-14, 1e-2], "nice": false}, "axis": null},
            "y": {"field": "y", "type": "quantitative", "scale": {"type": "log", "domain": [1e-16, 1e-2], "nice": false}, "axis": null}
          }
        },
        {
          "transform": [{"filter": {"field": "s", "equal": "aux VOₙ"}}],
          "mark": {"type": "line", "strokeWidth": 1.3, "strokeDash": [1.5, 2], "color": "#5fa3e0", "clip": true, "interpolate": "monotone"},
          "encoding": {
            "x": {"field": "x", "type": "quantitative", "scale": {"type": "log", "domain": [1e-14, 1e-2], "nice": false}, "axis": null},
            "y": {"field": "y", "type": "quantitative", "scale": {"type": "log", "domain": [1e-16, 1e-2], "nice": false}, "axis": null}
          }
        },
        {
          "transform": [{"filter": {"field": "s", "oneOf": ["Cᵥ[therm]","Cᵥ[VOₙ]","Cᵥ[V₂Oₙ]"]}}],
          "mark": {"type": "line", "strokeWidth": 3.2, "clip": true, "interpolate": "monotone"},
          "encoding": {
            "x": {"field": "x", "type": "quantitative", "scale": {"type": "log", "domain": [1e-14, 1e-2], "nice": false},
              "axis": {"orient": "bottom", "title": null, "values": [1e-14,1e-13,1e-12,1e-11,1e-10,1e-9,1e-8,1e-7,1e-6,1e-5,1e-4,1e-3,1e-2],
                "labelExpr": "round(log(datum.value)/LN10) % 2 == 0 ? '10⁻' + (round(-log(datum.value)/LN10) >= 10 ? ['⁰','¹','²','³','⁴','⁵','⁶','⁷','⁸','⁹'][floor(round(-log(datum.value)/LN10)/10)] : '') + ['⁰','¹','²','³','⁴','⁵','⁶','⁷','⁸','⁹'][round(-log(datum.value)/LN10) % 10] : ''",
                "tickSize": {"condition": {"test": "round(log(datum.value)/LN10) % 2 == 0", "value": -7}, "value": -4},
                "gridOpacity": {"condition": {"test": "round(log(datum.value)/LN10) % 2 == 0", "value": 1}, "value": 0},
                "labelPadding": 10}},
            "y": {"field": "y", "type": "quantitative", "scale": {"type": "log", "domain": [1e-16, 1e-2], "nice": false},
              "axis": {"orient": "left", "title": null, "values": [1e-16,1e-15,1e-14,1e-13,1e-12,1e-11,1e-10,1e-9,1e-8,1e-7,1e-6,1e-5,1e-4,1e-3,1e-2],
                "labelExpr": "round(log(datum.value)/LN10) % 2 == 0 ? '10⁻' + (round(-log(datum.value)/LN10) >= 10 ? ['⁰','¹','²','³','⁴','⁵','⁶','⁷','⁸','⁹'][floor(round(-log(datum.value)/LN10)/10)] : '') + ['⁰','¹','²','³','⁴','⁵','⁶','⁷','⁸','⁹'][round(-log(datum.value)/LN10) % 10] : ''",
                "tickSize": {"condition": {"test": "round(log(datum.value)/LN10) % 2 == 0", "value": -7}, "value": -4},
                "gridOpacity": {"condition": {"test": "round(log(datum.value)/LN10) % 2 == 0", "value": 1}, "value": 0},
                "labelPadding": 16}},
            "color": {"field": "s", "type": "nominal", "legend": null,
              "scale": {"domain": ["Cᵥ[therm]","Cᵥ[VOₙ]","Cᵥ[V₂Oₙ]"], "range": ["#5e3a9a","#6ea9e0","#d2a02a"]}}
          }
        },
        {
          "mark": {"type": "line", "opacity": 0},
          "encoding": {
            "x": {"field": "x", "type": "quantitative", "scale": {"type": "log", "domain": [1e-14, 1e-2], "nice": false},
              "axis": {"orient": "top", "title": null, "labels": false, "grid": false, "values": [1e-14,1e-13,1e-12,1e-11,1e-10,1e-9,1e-8,1e-7,1e-6,1e-5,1e-4,1e-3,1e-2],
                "tickSize": {"condition": {"test": "round(log(datum.value)/LN10) % 2 == 0", "value": -7}, "value": -4}}},
            "y": {"field": "y", "type": "quantitative", "scale": {"type": "log", "domain": [1e-16, 1e-2], "nice": false},
              "axis": {"orient": "right", "title": null, "labels": false, "grid": false, "values": [1e-16,1e-15,1e-14,1e-13,1e-12,1e-11,1e-10,1e-9,1e-8,1e-7,1e-6,1e-5,1e-4,1e-3,1e-2],
                "tickSize": {"condition": {"test": "round(log(datum.value)/LN10) % 2 == 0", "value": -7}, "value": -4}}}
          }
        }
      ],
      "resolve": {"axis": {"x": "independent", "y": "independent"}}
    },
    {
      "width": 333, "height": 252,
      "data": {"name": "p5"},
      "layer": [
        {
          "mark": {"type": "line", "strokeWidth": 3.2, "clip": true, "interpolate": "monotone"},
          "encoding": {
            "x": {"field": "x", "type": "quantitative", "scale": {"type": "log", "domain": [1e-24, 1e-3], "nice": false},
              "axis": {"orient": "bottom", "title": "Total oxygen concentration Cₜₒₜ[O]", "titleY": 38, "titleBaseline": "middle",
                "values": [1e-24,1e-23,1e-22,1e-21,1e-20,1e-19,1e-18,1e-17,1e-16,1e-15,1e-14,1e-13,1e-12,1e-11,1e-10,1e-9,1e-8,1e-7,1e-6,1e-5,1e-4,1e-3],
                "labelExpr": "round(log(datum.value)/LN10) % 5 == 0 ? '10⁻' + (round(-log(datum.value)/LN10) >= 10 ? ['⁰','¹','²','³','⁴','⁵','⁶','⁷','⁸','⁹'][floor(round(-log(datum.value)/LN10)/10)] : '') + ['⁰','¹','²','³','⁴','⁵','⁶','⁷','⁸','⁹'][round(-log(datum.value)/LN10) % 10] : ''",
                "tickSize": {"condition": {"test": "round(log(datum.value)/LN10) % 5 == 0", "value": -7}, "value": -4},
                "gridOpacity": {"condition": {"test": "round(log(datum.value)/LN10) % 5 == 0", "value": 1}, "value": 0},
                "labelPadding": 14}},
            "y": {"field": "y", "type": "quantitative", "scale": {"type": "log", "domain": [1e-30, 1e-3], "nice": false},
              "axis": {"orient": "left", "title": null,
                "values": [1e-30,1e-29,1e-28,1e-27,1e-26,1e-25,1e-24,1e-23,1e-22,1e-21,1e-20,1e-19,1e-18,1e-17,1e-16,1e-15,1e-14,1e-13,1e-12,1e-11,1e-10,1e-9,1e-8,1e-7,1e-6,1e-5,1e-4],
                "labelExpr": "round(log(datum.value)/LN10) % 5 == 0 ? '10⁻' + (round(-log(datum.value)/LN10) >= 10 ? ['⁰','¹','²','³','⁴','⁵','⁶','⁷','⁸','⁹'][floor(round(-log(datum.value)/LN10)/10)] : '') + ['⁰','¹','²','³','⁴','⁵','⁶','⁷','⁸','⁹'][round(-log(datum.value)/LN10) % 10] : ''",
                "tickSize": {"condition": {"test": "round(log(datum.value)/LN10) % 5 == 0", "value": -7}, "value": -4},
                "gridOpacity": {"condition": {"test": "round(log(datum.value)/LN10) % 5 == 0", "value": 1}, "value": 0},
                "labelPadding": 16}},
            "color": {"field": "s", "type": "nominal",
              "scale": {"domain": ["C[oct]","C[Oₙ]","C[V₁Oₙ]","C[V₂Oₙ]"], "range": ["#5e3a9a","#2e8a57","#6ea9e0","#d2a02a"]},
              "legend": {"title": null, "orient": "none", "legendX": 172, "legendY": 140, "padding": 5, "fillColor": "white",
                "encode": {"labels": {"update": {"x": {"value": 67}, "y": {"value": 9}, "align": {"value": "right"}}}, "symbols": {"update": {"x": {"value": 109.5}, "y": {"value": 9}}}}}}
          }
        },
        {
          "mark": {"type": "line", "opacity": 0},
          "encoding": {
            "x": {"field": "x", "type": "quantitative", "scale": {"type": "log", "domain": [1e-24, 1e-3], "nice": false},
              "axis": {"orient": "top", "title": null, "labels": false, "grid": false,
                "values": [1e-24,1e-23,1e-22,1e-21,1e-20,1e-19,1e-18,1e-17,1e-16,1e-15,1e-14,1e-13,1e-12,1e-11,1e-10,1e-9,1e-8,1e-7,1e-6,1e-5,1e-4,1e-3],
                "tickSize": {"condition": {"test": "round(log(datum.value)/LN10) % 5 == 0", "value": -7}, "value": -4}}},
            "y": {"field": "y", "type": "quantitative", "scale": {"type": "log", "domain": [1e-30, 1e-3], "nice": false},
              "axis": {"orient": "right", "title": null, "labels": false, "grid": false,
                "values": [1e-30,1e-29,1e-28,1e-27,1e-26,1e-25,1e-24,1e-23,1e-22,1e-21,1e-20,1e-19,1e-18,1e-17,1e-16,1e-15,1e-14,1e-13,1e-12,1e-11,1e-10,1e-9,1e-8,1e-7,1e-6,1e-5,1e-4],
                "tickSize": {"condition": {"test": "round(log(datum.value)/LN10) % 5 == 0", "value": -7}, "value": -4}}}
          }
        }
      ],
      "resolve": {"axis": {"x": "independent", "y": "independent"}}
    },
    {
      "width": 333, "height": 252,
      "data": {"name": "p6"},
      "layer": [
        {
          "transform": [{"filter": {"field": "s", "equal": "aux therm"}}],
          "mark": {"type": "line", "strokeWidth": 1.3, "strokeDash": [1.5, 2], "color": "#a044b0", "clip": true},
          "encoding": {
            "x": {"field": "x", "type": "quantitative", "scale": {"type": "log", "domain": [1e-24, 1e-3], "nice": false}, "axis": null},
            "y": {"field": "y", "type": "quantitative", "scale": {"type": "log", "domain": [1e-30, 1e-3], "nice": false}, "axis": null}
          }
        },
        {
          "transform": [{"filter": {"field": "s", "equal": "aux VOₙ"}}],
          "mark": {"type": "line", "strokeWidth": 1.3, "strokeDash": [1.5, 2], "color": "#5fa3e0", "clip": true, "interpolate": "monotone"},
          "encoding": {
            "x": {"field": "x", "type": "quantitative", "scale": {"type": "log", "domain": [1e-24, 1e-3], "nice": false}, "axis": null},
            "y": {"field": "y", "type": "quantitative", "scale": {"type": "log", "domain": [1e-30, 1e-3], "nice": false}, "axis": null}
          }
        },
        {
          "transform": [{"filter": {"field": "s", "oneOf": ["Cᵥ[therm]","Cᵥ[VOₙ]","Cᵥ[V₂Oₙ]"]}}],
          "mark": {"type": "line", "strokeWidth": 3.2, "clip": true, "interpolate": "monotone"},
          "encoding": {
            "x": {"field": "x", "type": "quantitative", "scale": {"type": "log", "domain": [1e-24, 1e-3], "nice": false},
              "axis": {"orient": "bottom", "title": "Total oxygen concentration Cₜₒₜ[O]", "titleY": 38, "titleBaseline": "middle",
                "values": [1e-24,1e-23,1e-22,1e-21,1e-20,1e-19,1e-18,1e-17,1e-16,1e-15,1e-14,1e-13,1e-12,1e-11,1e-10,1e-9,1e-8,1e-7,1e-6,1e-5,1e-4,1e-3],
                "labelExpr": "round(log(datum.value)/LN10) % 5 == 0 ? '10⁻' + (round(-log(datum.value)/LN10) >= 10 ? ['⁰','¹','²','³','⁴','⁵','⁶','⁷','⁸','⁹'][floor(round(-log(datum.value)/LN10)/10)] : '') + ['⁰','¹','²','³','⁴','⁵','⁶','⁷','⁸','⁹'][round(-log(datum.value)/LN10) % 10] : ''",
                "tickSize": {"condition": {"test": "round(log(datum.value)/LN10) % 5 == 0", "value": -7}, "value": -4},
                "gridOpacity": {"condition": {"test": "round(log(datum.value)/LN10) % 5 == 0", "value": 1}, "value": 0},
                "labelPadding": 14}},
            "y": {"field": "y", "type": "quantitative", "scale": {"type": "log", "domain": [1e-30, 1e-3], "nice": false},
              "axis": {"orient": "left", "title": null,
                "values": [1e-30,1e-29,1e-28,1e-27,1e-26,1e-25,1e-24,1e-23,1e-22,1e-21,1e-20,1e-19,1e-18,1e-17,1e-16,1e-15,1e-14,1e-13,1e-12,1e-11,1e-10,1e-9,1e-8,1e-7,1e-6,1e-5,1e-4],
                "labelExpr": "round(log(datum.value)/LN10) % 5 == 0 ? '10⁻' + (round(-log(datum.value)/LN10) >= 10 ? ['⁰','¹','²','³','⁴','⁵','⁶','⁷','⁸','⁹'][floor(round(-log(datum.value)/LN10)/10)] : '') + ['⁰','¹','²','³','⁴','⁵','⁶','⁷','⁸','⁹'][round(-log(datum.value)/LN10) % 10] : ''",
                "tickSize": {"condition": {"test": "round(log(datum.value)/LN10) % 5 == 0", "value": -7}, "value": -4},
                "gridOpacity": {"condition": {"test": "round(log(datum.value)/LN10) % 5 == 0", "value": 1}, "value": 0},
                "labelPadding": 16}},
            "color": {"field": "s", "type": "nominal",
              "scale": {"domain": ["Cᵥ[therm]","Cᵥ[VOₙ]","Cᵥ[V₂Oₙ]"], "range": ["#5e3a9a","#6ea9e0","#d2a02a"]},
              "legend": {"title": null, "orient": "none", "legendX": 0, "legendY": 11, "padding": 0,
                "encode": {"labels": {"update": {"x": {"value": 103}, "y": {"value": 9}, "align": {"value": "right"}}}, "symbols": {"update": {"x": {"value": 144}, "y": {"value": 9}}}}}}
          }
        },
        {
          "mark": {"type": "line", "opacity": 0},
          "encoding": {
            "x": {"field": "x", "type": "quantitative", "scale": {"type": "log", "domain": [1e-24, 1e-3], "nice": false},
              "axis": {"orient": "top", "title": null, "labels": false, "grid": false,
                "values": [1e-24,1e-23,1e-22,1e-21,1e-20,1e-19,1e-18,1e-17,1e-16,1e-15,1e-14,1e-13,1e-12,1e-11,1e-10,1e-9,1e-8,1e-7,1e-6,1e-5,1e-4,1e-3],
                "tickSize": {"condition": {"test": "round(log(datum.value)/LN10) % 5 == 0", "value": -7}, "value": -4}}},
            "y": {"field": "y", "type": "quantitative", "scale": {"type": "log", "domain": [1e-30, 1e-3], "nice": false},
              "axis": {"orient": "right", "title": null, "labels": false, "grid": false,
                "values": [1e-30,1e-29,1e-28,1e-27,1e-26,1e-25,1e-24,1e-23,1e-22,1e-21,1e-20,1e-19,1e-18,1e-17,1e-16,1e-15,1e-14,1e-13,1e-12,1e-11,1e-10,1e-9,1e-8,1e-7,1e-6,1e-5,1e-4],
                "tickSize": {"condition": {"test": "round(log(datum.value)/LN10) % 5 == 0", "value": -7}, "value": -4}}}
          }
        }
      ],
      "resolve": {"axis": {"x": "independent", "y": "independent"}}
    }
  ],
  "config": {
    "font": "Liberation Sans",
    "view": {"stroke": "#111111", "strokeWidth": 1.5},
    "axis": {"domain": false, "labelFont": "Noto Sans", "labelFontSize": 18, "labelColor": "#111111", "labelFlush": false, "labelOverlap": false, "labelBound": false,
      "tickColor": "#111111", "tickWidth": 1.2, "gridColor": "#8fb0c4", "gridDash": [2, 3], "gridWidth": 1,
      "titleFont": "Liberation Sans", "titleFontSize": 20, "titleFontWeight": "normal", "titleColor": "#111111"},
    "legend": {"symbolType": "M-10,0H10", "symbolSize": 34, "symbolStrokeWidth": 3, "rowPadding": 8,
      "labelFont": "Liberation Sans", "labelFontSize": 18, "labelColor": "#111111", "labelLimit": 0}
  }
}
